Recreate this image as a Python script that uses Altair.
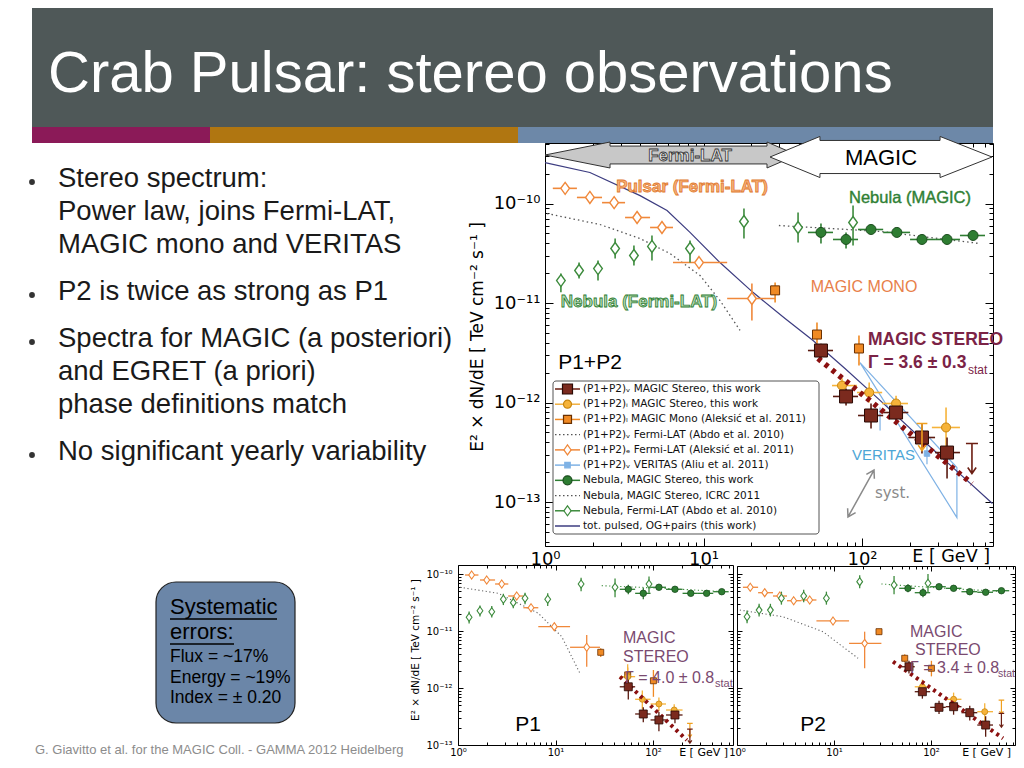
import altair as alt
import pandas as pd

W, H = 1008, 752
SANS = "Liberation Sans"
MPL = "DejaVu Sans"

# ---------------- colours ----------------
ORANGE = "#F0883A"
GREEN_OPEN = "#3D8B3D"
GREEN = "#2E7D32"
MONO = "#F08A24"
MAROON = "#7B2A1E"
YELLOW = "#F6B33A"
FIT = "#8B1010"
NAVY = "#3C3C80"
VERITAS = "#7FB2E5"

# ================= MAIN PANEL (P1+P2) =================
psr_fermi_E = [1.34, 1.92, 2.73, 3.81, 5.47, 9.37, 20.2]
psr_fermi_Elo = [1.12, 1.59, 2.29, 3.20, 4.60, 6.42, 14.1]
psr_fermi_Ehi = [1.59, 2.29, 3.20, 4.60, 6.42, 14.1, 28.3]
psr_fermi_F = [1.42e-10, 1.15e-10, 1.02e-10, 7.23e-11, 5.74e-11, 2.55e-11, 1.11e-11]
psr_fermi_Flo = [1.36e-10, 1.10e-10, 0.97e-10, 6.9e-11, 5.4e-11, 2.35e-11, 6.67e-12]
psr_fermi_Fhi = [1.48e-10, 1.20e-10, 1.07e-10, 7.6e-11, 6.1e-11, 2.75e-11, 1.57e-11]

neb_fermi_E = [1.26, 1.64, 2.16, 2.77, 3.64, 4.73, 8.22, 18.0, 39.5, 87.8]
neb_fermi_F = [1.68e-11, 2.12e-11, 2.22e-11, 3.53e-11, 3.00e-11, 3.70e-11, 3.53e-11, 6.59e-11, 5.74e-11, 6.44e-11]
neb_fermi_Flo = [1.28e-11, 1.76e-11, 1.68e-11, 2.80e-11, 2.38e-11, 2.67e-11, 2.55e-11, 4.45e-11, 4.05e-11, 3.78e-11]
neb_fermi_Fhi = [1.98e-11, 2.55e-11, 2.67e-11, 4.45e-11, 3.78e-11, 4.77e-11, 4.25e-11, 8.91e-11, 8.12e-11, 9.55e-11]

neb_magic_E = [55.1, 79.3, 114, 166, 239, 344, 502]
neb_magic_Elo = [45.6, 65.6, 94.4, 136, 201, 289, 415]
neb_magic_Ehi = [65.6, 94.4, 136, 201, 289, 415, 597]
neb_magic_F = [5.12e-11, 4.35e-11, 5.48e-11, 5.12e-11, 4.35e-11, 4.35e-11, 4.77e-11]
neb_magic_Flo = [3.96e-11, 3.53e-11, 5.0e-11, 4.7e-11, 4.0e-11, 4.0e-11, 4.4e-11]
neb_magic_Fhi = [6.29e-11, 5.12e-11, 6.0e-11, 5.6e-11, 4.75e-11, 4.75e-11, 5.2e-11]

icrc_E = [29.9, 130, 555]
icrc_F = [6.01e-11, 5.24e-11, 3.96e-11]

fermi_fit_E = [1.03, 2.22, 3.97, 6.15, 9.51, 12.7, 17.0]
fermi_fit_F = [7.93e-11, 6.15e-11, 4.45e-11, 3.14e-11, 1.89e-11, 1.06e-11, 5.30e-12]

og_E = [1.0, 1.92, 3.98, 5.89, 8.22, 12.7, 20.5, 32.7, 49.1, 78.1, 130, 243, 398, 665]
og_F = [2.58e-10, 2.05e-10, 1.20e-10, 8.51e-11, 5.12e-11, 2.55e-11, 1.28e-11, 6.98e-12,
        4.20e-12, 2.20e-12, 1.05e-12, 4.15e-13, 2.03e-13, 9.66e-14]

mono_E = [28.3, 52.0, 95.7]
mono_F = [1.34e-11, 4.82e-12, 3.49e-12]
mono_Flo = [1.01e-11, 3.92e-12, 2.36e-12]
mono_Fhi = [1.61e-11, 6.37e-12, 4.71e-12]

stv_E = [55.1, 79.3, 114, 164, 239, 344]
stv_Elo = [45.6, 65.6, 94.4, 136, 196, 289]
stv_Ehi = [65.6, 94.4, 136, 196, 289, 415]
stv_F = [3.33e-12, 1.15e-12, 7.40e-13, 7.93e-13, 4.45e-13, 3.14e-13]
stv_Flo = [2.8e-12, 9.33e-13, 5.48e-13, 6.29e-13, 3.07e-13, 1.72e-13]
stv_Fhi = [3.9e-12, 1.38e-12, 9.77e-13, 1.0e-12, 6.15e-13, 4.45e-13]
stv_ul_E = [494]
stv_ul_F = [3.87e-13]

sti_E = [74.8, 111, 164, 339]
sti_Elo = [64.7, 93.0, 134, 276]
sti_Ehi = [93.0, 134, 195, 415]
sti_F = [1.48e-12, 1.26e-12, 9.77e-13, 5.61e-13]
sti_Flo = [1.25e-12, 1.0e-12, 7.93e-13, 3.30e-13]
sti_Fhi = [1.75e-12, 1.59e-12, 1.17e-12, 8.91e-13]
sti_ul_E = [239]
sti_ul_F = [6.15e-13]

fit_E = [52.8, 494]
fit_F = [2.77e-12, 1.53e-13]

ver_band_E = [97.1, 397, 397, 97.1]
ver_band_F = [2.52e-12, 2.22e-13, 6.98e-14, 2.52e-12]
ver_E = [130, 257]
ver_F = [6.8e-13, 3.07e-13]
ver_Flo = [5.24e-13, 2.4e-13]
ver_Fhi = [8.91e-13, 3.9e-13]

legend_labels = [
    "(P1+P2)ᵥ MAGIC Stereo, this work",
    "(P1+P2)ᵢ MAGIC Stereo, this work",
    "(P1+P2)ₗ MAGIC Mono (Aleksić et al. 2011)",
    "(P1+P2)ᵥ Fermi-LAT (Abdo et al. 2010)",
    "(P1+P2)ₑ Fermi-LAT (Aleksić et al. 2011)",
    "(P1+P2)ᵥ VERITAS (Aliu et al. 2011)",
    "Nebula, MAGIC Stereo, this work",
    "Nebula, MAGIC Stereo, ICRC 2011",
    "Nebula, Fermi-LAT (Abdo et al. 2010)",
    "tot. pulsed, OG+pairs (this work)",
]
legend_line_colors = ["#6B1E12", "#F0B040", MONO, "#555555", ORANGE, VERITAS, GREEN, "#555555", GREEN_OPEN, NAVY]
legend_dotted = [False, False, False, True, False, False, False, True, False, False]

# ================= P1 PANEL =================
p1_fermi_E = [1.38, 1.97, 2.81, 4.00, 5.61, 9.72, 20.9]
p1_fermi_Elo = [1.18, 1.68, 2.40, 3.28, 4.68, 6.66, 14.1]
p1_fermi_Ehi = [1.62, 2.40, 3.28, 4.68, 6.66, 14.1, 28.6]
p1_fermi_F = [9.60e-11, 7.85e-11, 6.68e-11, 4.11e-11, 2.56e-11, 1.19e-11, 5.18e-12]
p1_fermi_Flo = [9.1e-11, 7.45e-11, 6.35e-11, 3.9e-11, 2.43e-11, 1.07e-11, 2.36e-12]
p1_fermi_Fhi = [1.01e-10, 8.25e-11, 7.0e-11, 4.3e-11, 2.7e-11, 1.32e-11, 8.51e-12]

p1_nebf_E = [1.30, 1.68, 2.22, 2.92, 3.69, 4.87, 8.32, 18.3, 40.8, 91.0]
p1_nebf_F = [1.74e-11, 2.27e-11, 2.18e-11, 3.60e-11, 3.14e-11, 3.75e-11, 3.60e-11, 6.68e-11, 5.85e-11, 6.68e-11]
p1_nebf_Flo = [1.35e-11, 1.8e-11, 1.72e-11, 2.85e-11, 2.5e-11, 2.95e-11, 2.75e-11, 5.0e-11, 3.9e-11, 4.7e-11]
p1_nebf_Fhi = [2.2e-11, 2.8e-11, 2.75e-11, 4.5e-11, 3.95e-11, 4.7e-11, 4.6e-11, 8.6e-11, 8.3e-11, 9.0e-11]

p1_nebm_E = [55.8, 79.5, 115, 168, 244, 355, 507]
p1_nebm_Elo = [45.6, 65.6, 94.4, 136, 201, 289, 415]
p1_nebm_Ehi = [65.6, 94.4, 136, 201, 289, 415, 597]
p1_nebm_F = [5.39e-11, 4.58e-11, 5.85e-11, 5.39e-11, 4.58e-11, 4.58e-11, 4.89e-11]
p1_nebm_Flo = [4.4e-11, 3.6e-11, 5.2e-11, 4.9e-11, 4.15e-11, 4.15e-11, 4.45e-11]
p1_nebm_Fhi = [6.5e-11, 5.7e-11, 6.5e-11, 5.9e-11, 5.0e-11, 5.0e-11, 5.35e-11]

p1_icrc_E = [29.8, 130, 548]
p1_icrc_F = [6.24e-11, 5.6e-11, 4.89e-11]
p1_ffit_E = [1.05, 2.59, 6.66, 11.6, 17.8]
p1_ffit_F = [5.85e-11, 4.58e-11, 2.05e-11, 7.94e-12, 1.81e-12]

p1_mono_E = [29.1, 55.0, 101]
p1_mono_F = [4.23e-12, 1.7e-12, 1.34e-12]
p1_mono_Flo = [3.5e-12, 1.3e-12, 7.0e-13]
p1_mono_Fhi = [5.0e-12, 2.3e-12, 2.07e-12]

p1_sti_E = [55.0, 77.7, 115, 165]
p1_sti_Elo = [45.6, 65.6, 94.4, 136]
p1_sti_Ehi = [65.6, 94.4, 136, 201]
p1_sti_F = [1.58e-12, 6.34e-13, 5.24e-13, 4.11e-13]
p1_sti_Flo = [9.5e-13, 4.2e-13, 3.9e-13, 3.2e-13]
p1_sti_Fhi = [2.6e-12, 9.0e-13, 6.8e-13, 5.2e-13]
p1_sti_ul_E = [239]
p1_sti_ul_F = [2.4e-13]

p1_stv_E = [55.8, 79.5, 115, 168]
p1_stv_Elo = [45.6, 65.6, 94.4, 136]
p1_stv_Ehi = [65.6, 94.4, 136, 201]
p1_stv_F = [1.05e-12, 3.50e-13, 2.75e-13, 3.36e-13]
p1_stv_Flo = [6.3e-13, 2.5e-13, 1.75e-13, 2.4e-13]
p1_stv_Fhi = [1.65e-12, 4.6e-13, 3.8e-13, 4.4e-13]
p1_stv_ul_E = [239]
p1_stv_ul_F = [1.9e-13]

p1_fit_E = [45.9, 222]
p1_fit_F = [1.58e-12, 1.22e-13]

# ================= P2 PANEL =================
p2_fermi_E = [1.37, 1.93, 2.76, 3.84, 5.62, 9.77, 20.7]
p2_fermi_Elo = [1.15, 1.65, 2.35, 3.28, 4.61, 6.59, 14.3]
p2_fermi_Ehi = [1.65, 2.35, 3.28, 4.61, 6.59, 14.3, 30.8]
p2_fermi_F = [5.85e-11, 4.70e-11, 4.11e-11, 3.40e-11, 3.50e-11, 1.50e-11, 6.08e-12]
p2_fermi_Flo = [5.55e-11, 4.45e-11, 3.9e-11, 3.2e-11, 3.3e-11, 1.4e-11, 2.22e-12]
p2_fermi_Fhi = [6.15e-11, 4.95e-11, 4.35e-11, 3.6e-11, 3.7e-11, 1.6e-11, 9.73e-12]

p2_nebf_E = [1.27, 1.69, 2.21, 2.87, 4.87, 8.35, 18.4, 41.6, 93.1]
p2_nebf_F = [1.78e-11, 2.33e-11, 2.33e-11, 3.75e-11, 4.11e-11, 3.75e-11, 7.33e-11, 6.41e-11, 6.87e-11]
p2_nebf_Flo = [1.37e-11, 1.8e-11, 1.8e-11, 2.9e-11, 3.2e-11, 2.9e-11, 5.6e-11, 4.4e-11, 4.8e-11]
p2_nebf_Fhi = [2.3e-11, 3.0e-11, 3.0e-11, 4.9e-11, 5.3e-11, 4.9e-11, 9.5e-11, 9.2e-11, 1.0e-10]

p2_nebm_E = [57.9, 82.7, 121, 171, 251, 366, 532]
p2_nebm_Elo = [47.0, 68.0, 98.0, 142, 206, 300, 436]
p2_nebm_Ehi = [68.0, 98.0, 142, 206, 300, 436, 640]
p2_nebm_F = [5.61e-11, 4.70e-11, 5.98e-11, 5.61e-11, 4.89e-11, 4.78e-11, 5.09e-11]
p2_nebm_Flo = [4.8e-11, 3.9e-11, 5.3e-11, 5.0e-11, 4.4e-11, 4.3e-11, 4.6e-11]
p2_nebm_Fhi = [6.6e-11, 5.6e-11, 6.7e-11, 6.3e-11, 5.4e-11, 5.3e-11, 5.6e-11]

p2_icrc_E = [30.8, 123, 599]
p2_icrc_F = [6.68e-11, 5.68e-11, 4.89e-11]
p2_ffit_E = [1.07, 2.98, 7.70, 17.7]
p2_ffit_F = [2.33e-11, 1.78e-11, 9.73e-12, 3.32e-12]

p2_mono_E = [29.1, 53.6, 101]
p2_mono_F = [9.73e-12, 3.32e-12, 2.22e-12]
p2_mono_Flo = [8.5e-12, 2.8e-12, 1.6e-12]
p2_mono_Fhi = [1.1e-11, 3.9e-12, 3.0e-12]

p2_sti_E = [81.5, 171, 358]
p2_sti_Elo = [68.0, 142, 300]
p2_sti_Ehi = [98.0, 206, 436]
p2_sti_F = [1.05e-12, 6.34e-13, 3.84e-13]
p2_sti_Flo = [7.5e-13, 4.2e-13, 2.2e-13]
p2_sti_Fhi = [1.4e-12, 8.3e-13, 5.4e-13]
p2_sti_ul_E = [532]
p2_sti_ul_F = [6.15e-13]

p2_stv_E = [59.3, 81.5, 121, 171, 251, 366]
p2_stv_Elo = [47.0, 68.0, 98.0, 142, 206, 300]
p2_stv_Ehi = [68.0, 98.0, 142, 206, 300, 436]
p2_stv_F = [2.36e-12, 8.61e-13, 4.58e-13, 4.70e-13, 3.69e-13, 2.24e-13]
p2_stv_Flo = [1.8e-12, 6.5e-13, 3.5e-13, 3.4e-13, 2.7e-13, 1.4e-13]
p2_stv_Fhi = [3.0e-12, 1.1e-12, 6.0e-13, 6.3e-13, 4.9e-13, 3.2e-13]
p2_stv_ul_E = [532]
p2_stv_ul_F = [3.6e-13]

p2_fit_E = [40.6, 552]
p2_fit_F = [2.89e-12, 1.31e-13]

# ---------------- slide text ----------------
title_text = "Crab Pulsar: stereo observations"
bullet_lines = ["Stereo spectrum:", "Power law, joins Fermi-LAT,", "MAGIC mono and VERITAS",
                "P2 is twice as strong as P1", "Spectra for MAGIC (a posteriori)",
                "and EGRET (a priori)", "phase definitions match", "No significant yearly variability"]
sys_lines = ["Flux = ~17%", "Energy  = ~19%", "Index = ± 0.20"]
footer_text = "G. Giavitto et al. for the MAGIC Coll.  - GAMMA 2012 Heidelberg"
ytitle_text = "E² × dN/dE  [ TeV cm⁻² s⁻¹ ]"

# ---------------- geometry helpers ----------------
def panel(x0, x1, xdec, yb, yt, ydec, y13):
    ylo = -13 - (yb - y13) / ydec
    yhi = ylo + (yb - yt) / ydec
    return {"xr": [x0, x1], "yr": [yb, yt],
            "xd": [1.0, 10 ** ((x1 - x0) / xdec)], "yd": [10 ** ylo, 10 ** yhi]}

MAIN = panel(537, 985, 158.5, 538, 135, 99.5, 494)
P1 = panel(450, 725, 97.5, 737, 557, 57, 737)
P2 = panel(729, 1007, 97.0, 737, 558, 57, 737)

def sx(p):
    return alt.Scale(type="log", domain=p["xd"], range=p["xr"], nice=False)

def sy(p):
    return alt.Scale(type="log", domain=p["yd"], range=p["yr"], nice=False)

def X(p, f, axis=None):
    return alt.X(f, type="quantitative", scale=sx(p), axis=axis)

def Y(p, f, axis=None):
    return alt.Y(f, type="quantitative", scale=sy(p), axis=axis)

ONE = pd.DataFrame({"k": [0]})
DIAMOND = "M0,-1L0.72,0L0,1L-0.72,0Z"
UL_PATH = "M-0.4,0L0.4,0M0,0L0,2M-0.28,1.6L0,2L0.28,1.6"

def pts(p, E, F, shape, size, fill, stroke, sw=1.0):
    df = pd.DataFrame({"E": E, "F": F})
    return alt.Chart(df).mark_point(shape=shape, size=size, filled=True, fill=fill, stroke=stroke,
                                    strokeWidth=sw, opacity=1).encode(x=X(p, "E"), y=Y(p, "F"))

def ul(p, E, F, size, color, sw=1.5):
    df = pd.DataFrame({"E": E, "F": F})
    return alt.Chart(df).mark_point(shape=UL_PATH, size=size, filled=False, stroke=color,
                                    strokeWidth=sw, opacity=1).encode(x=X(p, "E"), y=Y(p, "F"))

def xbars(p, lo, hi, F, color, sw):
    df = pd.DataFrame({"lo": lo, "hi": hi, "F": F})
    return alt.Chart(df).mark_rule(color=color, strokeWidth=sw).encode(
        x=X(p, "lo"), x2=alt.X2("hi"), y=Y(p, "F"))

def ybars(p, E, lo, hi, color, sw):
    df = pd.DataFrame({"E": E, "lo": lo, "hi": hi})
    return alt.Chart(df).mark_rule(color=color, strokeWidth=sw).encode(
        x=X(p, "E"), y=Y(p, "lo"), y2=alt.Y2("hi"))

def curve(p, E, F, color, sw, dash=None, cap="butt"):
    df = pd.DataFrame({"E": E, "F": F, "i": list(range(len(E)))})
    kw = dict(color=color, strokeWidth=sw, strokeCap=cap)
    if dash:
        kw["strokeDash"] = dash
    return alt.Chart(df).mark_line(**kw).encode(x=X(p, "E"), y=Y(p, "F"), order="i:Q")

def rect(x, x2, y, y2, **mk):
    return alt.Chart(ONE).mark_rect(**mk).encode(x=alt.value(x), x2=alt.value(x2),
                                                 y=alt.value(y), y2=alt.value(y2))

def hline(x, x2, y, color="black", sw=1.5):
    return alt.Chart(ONE).mark_rule(color=color, strokeWidth=sw).encode(
        x=alt.value(x), x2=alt.value(x2), y=alt.value(y))

def text(s, x, y, size, color="black", font=SANS, weight="normal", align="left",
         baseline="middle", angle=None, stroke=None, sw=None):
    mk = dict(text=s, fontSize=size, color=color, font=font, fontWeight=weight,
              align=align, baseline=baseline)
    if angle is not None:
        mk["angle"] = angle
    if stroke:
        mk["stroke"] = stroke
        mk["strokeWidth"] = sw
    return alt.Chart(ONE).mark_text(**mk).encode(x=alt.value(x), y=alt.value(y))

def symbol(path, x, y, size, angle=0, fill=None, stroke="black", sw=1.0):
    mk = dict(shape=path, size=size, stroke=stroke, strokeWidth=sw, opacity=1, angle=angle)
    if fill:
        mk.update(filled=True, fill=fill)
    else:
        mk.update(filled=False)
    return alt.Chart(ONE).mark_point(**mk).encode(x=alt.value(x), y=alt.value(y))

XLAB = "'10' + (datum.value >= 50 ? '²' : datum.value >= 5 ? '¹' : '⁰')"
YLAB = ("'10' + (log(datum.value)/LN10 > -10.5 ? '⁻¹⁰' : log(datum.value)/LN10 > -11.5 ? '⁻¹¹' : "
        "log(datum.value)/LN10 > -12.5 ? '⁻¹²' : '⁻¹³')")

def axes(p, lab_size, show_ylab=True, maj=7, mnr=4, xpad=3, ypad=4):
    xd, yd = p["xd"], p["yd"]
    xmaj = [v for v in [1.0, 10.0, 100.0] if xd[0] <= v <= xd[1]]
    xmn = [m * 10.0 ** k for k in range(0, 3) for m in range(2, 10) if xd[0] <= m * 10.0 ** k <= xd[1]]
    ymaj = [10.0 ** k for k in range(-14, -8) if yd[0] <= 10.0 ** k <= yd[1]]
    ymn = [m * 10.0 ** k for k in range(-14, -9) for m in range(2, 10) if yd[0] <= m * 10.0 ** k <= yd[1]]
    dummy = pd.DataFrame({"E": [xd[0]], "F": [yd[0]]})
    base = alt.Chart(dummy).mark_point(opacity=0)
    common = dict(grid=False, title=None, labelFlush=False, labelOverlap=False, tickColor="black",
                  domainColor="black", tickWidth=1, domainWidth=1)
    out = [base.encode(
        x=X(p, "E", alt.Axis(orient="bottom", offset=p["yr"][0] - H, values=xmaj, labelExpr=XLAB,
                             labelFont=MPL, labelFontSize=lab_size, labelColor="black",
                             labelPadding=xpad, ticks=False, tickSize=0, domain=True, **common)),
        y=Y(p, "F", alt.Axis(orient="left", offset=-p["xr"][0], values=ymaj, labelExpr=YLAB,
                             labels=show_ylab, labelFont=MPL, labelFontSize=lab_size,
                             labelColor="black", labelPadding=ypad, ticks=False, tickSize=0,
                             domain=True, **common)))]
    for vx, vy, size in [(xmaj, ymaj, maj), (xmn, ymn, mnr)]:
        out.append(base.encode(
            x=X(p, "E", alt.Axis(orient="top", offset=-p["yr"][0], values=vx, labels=False,
                                 domain=False, ticks=True, tickSize=size, **common)),
            y=Y(p, "F", alt.Axis(orient="right", offset=p["xr"][0] - W, values=vy, labels=False,
                                 domain=False, ticks=True, tickSize=size, **common))))
        out.append(base.encode(
            x=X(p, "E", alt.Axis(orient="bottom", offset=p["yr"][1] - H, values=vx, labels=False,
                                 domain=(size == maj), ticks=True, tickSize=size, **common)),
            y=Y(p, "F", alt.Axis(orient="left", offset=-p["xr"][1], values=vy, labels=False,
                                 domain=(size == maj), ticks=True, tickSize=size, **common))))
    return out

layers = []

# ---------------- slide banner ----------------
layers.append(rect(24, 985, 0, 119, color="#4F5858"))
layers.append(rect(24, 202, 119, 135, color="#8B1A58"))
layers.append(rect(202, 510, 119, 135, color="#B07611"))
layers.append(rect(510, 985, 119, 135, color="#6D88A8"))
layers.append(text(title_text, 40, 84, 58, color="white", font=SANS, baseline="alphabetic"))

# ---------------- bullets ----------------
bullet_base = [179, 212, 245, 292, 339, 372, 405, 452]
for s, yb in zip(bullet_lines, bullet_base):
    layers.append(text(s, 50, yb, 27.5, color="#1A1A1A", baseline="alphabetic"))
for yb in [174, 287, 334, 447]:
    layers.append(alt.Chart(ONE).mark_circle(size=34, color="#333333", opacity=1).encode(
        x=alt.value(24), y=alt.value(yb)))

# ---------------- main panel ----------------
layers += axes(MAIN, 18, maj=8, mnr=4, xpad=4, ypad=5)
layers.append(rect(545, 811, 373, 526, fill="white", stroke="#555555", strokeWidth=1, cornerRadius=3))
layers.append(curve(MAIN, ver_band_E, ver_band_F, VERITAS, 1.2))
layers.append(ybars(MAIN, ver_E, ver_Flo, ver_Fhi, VERITAS, 1.2))
layers.append(curve(MAIN, og_E, og_F, NAVY, 1.2))
layers.append(curve(MAIN, fermi_fit_E, fermi_fit_F, "#555555", 1.3, dash=[1.5, 3]))
layers.append(curve(MAIN, icrc_E, icrc_F, "#555555", 1.3, dash=[1.5, 3]))
layers.append(xbars(MAIN, psr_fermi_Elo, psr_fermi_Ehi, psr_fermi_F, ORANGE, 1.6))
layers.append(ybars(MAIN, psr_fermi_E, psr_fermi_Flo, psr_fermi_Fhi, ORANGE, 1.6))
layers.append(ybars(MAIN, neb_fermi_E, neb_fermi_Flo, neb_fermi_Fhi, GREEN_OPEN, 1.6))
layers.append(xbars(MAIN, neb_magic_Elo, neb_magic_Ehi, neb_magic_F, GREEN, 1.6))
layers.append(ybars(MAIN, neb_magic_E, neb_magic_Flo, neb_magic_Fhi, GREEN, 1.6))
layers.append(ybars(MAIN, mono_E, mono_Flo, mono_Fhi, MONO, 1.6))
layers.append(xbars(MAIN, sti_Elo, sti_Ehi, sti_F, YELLOW, 1.6))
layers.append(ybars(MAIN, sti_E, sti_Flo, sti_Fhi, YELLOW, 1.6))
layers.append(xbars(MAIN, stv_Elo, stv_Ehi, stv_F, "#5A1A10", 1.6))
layers.append(ybars(MAIN, stv_E, stv_Flo, stv_Fhi, "#5A1A10", 1.6))
layers.append(pts(MAIN, psr_fermi_E, psr_fermi_F, DIAMOND, 144, "white", ORANGE, 1.4))
layers.append(pts(MAIN, neb_fermi_E, neb_fermi_F, DIAMOND, 144, "white", GREEN_OPEN, 1.4))
layers.append(pts(MAIN, neb_magic_E, neb_magic_F, "circle", 100, GREEN, "#1B4D1E", 1.0))
layers.append(pts(MAIN, mono_E, mono_F, "square", 81, MONO, "#6A3000", 1.0))
layers.append(pts(MAIN, sti_E, sti_F, "circle", 81, YELLOW, "#C8860F", 1.0))
layers.append(pts(MAIN, ver_E[1:], ver_F[1:], "square", 30, VERITAS, VERITAS, 1.0))
layers.append(curve(MAIN, fit_E, fit_F, FIT, 5.5, dash=[4, 5]))
layers.append(pts(MAIN, stv_E, stv_F, "square", 169, MAROON, "#2A0A05", 1.0))
layers.append(ul(MAIN, stv_ul_E, stv_ul_F, 900, "#6B1E12", 1.6))
layers.append(ul(MAIN, sti_ul_E, sti_ul_F, 729, "#F0A020", 1.6))

# legend
leg_df = pd.DataFrame({"row": list(range(10)), "label": legend_labels,
                       "lc": legend_line_colors, "dotted": legend_dotted})
LEGY = alt.Y("row:Q", scale=alt.Scale(domain=[0, 9], range=[381, 518]), axis=None)
layers.append(alt.Chart(leg_df[~leg_df["dotted"]]).mark_rule(strokeWidth=1.5).encode(
    x=alt.value(547), x2=alt.value(572), y=LEGY, color=alt.Color("lc:N", scale=None)))
layers.append(alt.Chart(leg_df[leg_df["dotted"]]).mark_rule(strokeWidth=1.2, strokeDash=[1.5, 2.5]).encode(
    x=alt.value(547), x2=alt.value(572), y=LEGY, color=alt.Color("lc:N", scale=None)))
leg_mk = pd.DataFrame({
    "row": [0, 1, 2, 4, 5, 6, 8],
    "shape": ["square", "circle", "square", DIAMOND, "square", "circle", DIAMOND],
    "fill": [MAROON, YELLOW, MONO, "white", VERITAS, GREEN, "white"],
    "stroke": ["#2A0A05", "#C8860F", "#6A3000", ORANGE, VERITAS, "#1B4D1E", GREEN_OPEN],
    "size": [100, 64, 64, 100, 30, 81, 100],
})
layers.append(alt.Chart(leg_mk).mark_point(filled=True, opacity=1, strokeWidth=1.2).encode(
    x=alt.value(559.5), y=LEGY, shape=alt.Shape("shape:N", scale=None),
    fill=alt.Fill("fill:N", scale=None), stroke=alt.Stroke("stroke:N", scale=None),
    size=alt.Size("size:Q", scale=None)))
layers.append(alt.Chart(leg_df).mark_text(align="left", baseline="middle", font=MPL, fontSize=10.5,
                                          color="#111111").encode(
    x=alt.value(575), y=LEGY, text="label:N"))

# energy-range arrows
FERMI_ARROW = ("M-1,0L-0.484,-0.103L-0.484,-0.071L0.762,-0.071L0.762,-0.103L1,0L0.762,0.103"
               "L0.762,0.071L-0.484,0.071L-0.484,0.103Z")
MAGIC_ARROW = ("M-1,0L-0.55,-0.185L-0.55,-0.149L0.532,-0.149L0.532,-0.185L1,0L0.532,0.185"
               "L0.532,0.149L-0.55,0.149L-0.55,0.185Z")
layers.append(symbol(FERMI_ARROW, 663, 147, 252 ** 2, fill="#C8C8C8", stroke="#333333", sw=1))
layers.append(symbol(MAGIC_ARROW, 873, 149, 222 ** 2, fill="white", stroke="#333333", sw=1))
layers.append(text("Fermi-LAT", 682, 147.5, 17, color="#E4E4E4", weight="bold", align="center",
                   stroke="#333333", sw=0.8))
layers.append(text("MAGIC", 873, 150, 22, align="center"))

# annotations
layers.append(text("Pulsar (Fermi-LAT)", 684, 178.5, 17, color="#F7B27A", weight="bold",
                   align="center", stroke="#E07A30", sw=0.8))
layers.append(text("Nebula (MAGIC)", 902, 189.5, 16.5, color="#2F7F34", align="center",
                   stroke="#2F7F34", sw=0.4))
layers.append(text("Nebula (Fermi-LAT)", 631, 293.5, 17, color="#B5DAB5", weight="bold",
                   align="center", stroke="#2E7D32", sw=0.8))
layers.append(text("MAGIC MONO", 856, 278.5, 16, color="#E8804A", align="center"))
layers.append(text("MAGIC STEREO", 860, 332, 17.5, color="#7B2346", weight="bold"))
layers.append(text("Γ = 3.6 ± 0.3", 860, 355, 17.5, color="#7B2346", weight="bold"))
layers.append(text("stat", 960, 362, 12, color="#7B2346"))
layers.append(text("P1+P2", 582, 355, 21, align="center"))
layers.append(text("VERITAS", 875.5, 447, 15, color="#4DA6D6", align="center"))
layers.append(text("syst.", 884.5, 485, 15, color="#8A8A8A", font=MPL, align="center"))
SYST_ARROW = "M-1,0L1,0M-0.72,-0.17L-1,0L-0.72,0.17M0.72,-0.17L1,0L0.72,0.17"
layers.append(symbol(SYST_ARROW, 853, 485.5, 2884, angle=119, stroke="#8A8A8A", sw=1.5))
layers.append(text("E  [ GeV ]", 982, 549, 17.5, font=MPL, align="right"))
layers.append(text(ytitle_text, 470, 329, 17, font=MPL, align="center", angle=270))

# ---------------- small panels ----------------
def small_panel(p, fermi, nebf, nebm, icrc, ffit, mono, sti, sti_ul, stv, stv_ul, fit):
    out = []
    out.append(curve(p, ffit[0], ffit[1], "#666666", 1.1, dash=[1.2, 2.5]))
    out.append(curve(p, icrc[0], icrc[1], GREEN_OPEN, 1.1, dash=[1.2, 2.5]))
    out.append(xbars(p, fermi[1], fermi[2], fermi[3], ORANGE, 1.3))
    out.append(ybars(p, fermi[0], fermi[4], fermi[5], ORANGE, 1.3))
    out.append(ybars(p, nebf[0], nebf[2], nebf[3], GREEN_OPEN, 1.3))
    out.append(xbars(p, nebm[1], nebm[2], nebm[3], GREEN, 1.3))
    out.append(ybars(p, nebm[0], nebm[4], nebm[5], GREEN, 1.3))
    out.append(ybars(p, mono[0], mono[2], mono[3], MONO, 1.3))
    out.append(xbars(p, sti[1], sti[2], sti[3], YELLOW, 1.3))
    out.append(ybars(p, sti[0], sti[4], sti[5], YELLOW, 1.3))
    out.append(xbars(p, stv[1], stv[2], stv[3], "#5A1A10", 1.3))
    out.append(ybars(p, stv[0], stv[4], stv[5], "#5A1A10", 1.3))
    out.append(pts(p, fermi[0], fermi[3], DIAMOND, 64, "white", ORANGE, 1.1))
    out.append(pts(p, nebf[0], nebf[1], DIAMOND, 64, "white", GREEN_OPEN, 1.1))
    out.append(pts(p, nebm[0], nebm[3], "circle", 42, GREEN, "#1B4D1E", 0.8))
    out.append(pts(p, mono[0], mono[1], "square", 36, MONO, "#6A3000", 0.8))
    out.append(pts(p, sti[0], sti[3], "circle", 36, YELLOW, "#C8860F", 0.8))
    out.append(curve(p, fit[0], fit[1], FIT, 4, dash=[3, 4]))
    out.append(pts(p, stv[0], stv[3], "square", 64, MAROON, "#2A0A05", 0.8))
    out.append(ul(p, sti_ul[0], sti_ul[1], 196, "#F0A020", 1.2))
    out.append(ul(p, stv_ul[0], stv_ul[1], 196, "#6B1E12", 1.2))
    return out

layers += axes(P1, 10, maj=5, mnr=3, xpad=2, ypad=6)
layers += small_panel(
    P1,
    (p1_fermi_E, p1_fermi_Elo, p1_fermi_Ehi, p1_fermi_F, p1_fermi_Flo, p1_fermi_Fhi),
    (p1_nebf_E, p1_nebf_F, p1_nebf_Flo, p1_nebf_Fhi),
    (p1_nebm_E, p1_nebm_Elo, p1_nebm_Ehi, p1_nebm_F, p1_nebm_Flo, p1_nebm_Fhi),
    (p1_icrc_E, p1_icrc_F), (p1_ffit_E, p1_ffit_F),
    (p1_mono_E, p1_mono_F, p1_mono_Flo, p1_mono_Fhi),
    (p1_sti_E, p1_sti_Elo, p1_sti_Ehi, p1_sti_F, p1_sti_Flo, p1_sti_Fhi),
    (p1_sti_ul_E, p1_sti_ul_F),
    (p1_stv_E, p1_stv_Elo, p1_stv_Ehi, p1_stv_F, p1_stv_Flo, p1_stv_Fhi),
    (p1_stv_ul_E, p1_stv_ul_F),
    (p1_fit_E, p1_fit_F))
layers.append(text("P1", 520, 717, 21, align="center"))
layers.append(text("MAGIC", 615, 630, 16, color="#7A4A70"))
layers.append(text("STEREO", 615, 649, 16, color="#7A4A70"))
layers.append(text("Γ = 4.0 ± 0.8", 617, 670, 16, color="#7A4A70"))
layers.append(text("stat", 707, 676, 11, color="#7A4A70"))
layers.append(text("E [ GeV ]", 720, 745, 11, font=MPL, align="right"))
layers.append(text(ytitle_text, 408, 642, 10.5, font=MPL, align="center", angle=270))

layers += axes(P2, 10, show_ylab=False, maj=5, mnr=3, xpad=2, ypad=3)
layers += small_panel(
    P2,
    (p2_fermi_E, p2_fermi_Elo, p2_fermi_Ehi, p2_fermi_F, p2_fermi_Flo, p2_fermi_Fhi),
    (p2_nebf_E, p2_nebf_F, p2_nebf_Flo, p2_nebf_Fhi),
    (p2_nebm_E, p2_nebm_Elo, p2_nebm_Ehi, p2_nebm_F, p2_nebm_Flo, p2_nebm_Fhi),
    (p2_icrc_E, p2_icrc_F), (p2_ffit_E, p2_ffit_F),
    (p2_mono_E, p2_mono_F, p2_mono_Flo, p2_mono_Fhi),
    (p2_sti_E, p2_sti_Elo, p2_sti_Ehi, p2_sti_F, p2_sti_Flo, p2_sti_Fhi),
    (p2_sti_ul_E, p2_sti_ul_F),
    (p2_stv_E, p2_stv_Elo, p2_stv_Ehi, p2_stv_F, p2_stv_Flo, p2_stv_Fhi),
    (p2_stv_ul_E, p2_stv_ul_F),
    (p2_fit_E, p2_fit_F))
layers.append(text("P2", 805, 717, 21, align="center"))
layers.append(text("MAGIC", 902, 624, 16, color="#7A4A70"))
layers.append(text("STEREO", 907, 642, 16, color="#7A4A70"))
layers.append(text("Γ = 3.4 ± 0.8", 902, 660, 16, color="#7A4A70"))
layers.append(text("stat", 990, 666, 10.5, color="#7A4A70"))
layers.append(text("E [ GeV ]", 1003, 745, 11, font=MPL, align="right"))

# ---------------- systematic errors box & footer ----------------
layers.append(rect(148, 287, 574, 715, fill="#6B86A8", stroke="#222222", strokeWidth=1.2, cornerRadius=20))
layers.append(text("Systematic", 162, 599, 22))
layers.append(hline(162, 269, 611))
layers.append(text("errors:", 162, 624, 22))
layers.append(hline(162, 226, 636))
for s, yb in zip(sys_lines, [649, 670, 690]):
    layers.append(text(s, 162, yb, 17.5))
layers.append(text(footer_text, 27, 742, 13, color="#8C8C8C"))

chart = alt.layer(*layers).resolve_scale(x="independent", y="independent").properties(
    width=W, height=H, autosize=alt.AutoSizeParams(type="none"), padding=0, background="white"
).configure_view(stroke=None)

chart.save("out.html", embed_options={"renderer": "svg", "actions": False})
